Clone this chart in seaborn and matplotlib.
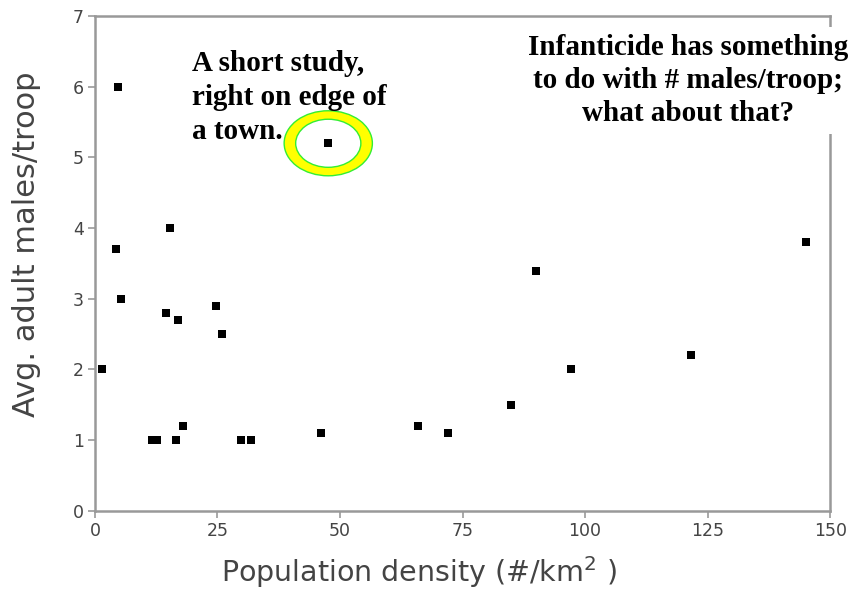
import matplotlib
matplotlib.use('Agg')
import matplotlib.pyplot as plt
from matplotlib.patches import Ellipse
import seaborn as sns
import pandas as pd

# population density (#/km^2) and avg adult males per troop
density = [1.4, 4.7, 4.3, 5.3, 15.3, 14.5, 17.0, 24.7, 25.9, 11.6, 12.6, 16.5,
           17.9, 29.8, 31.8, 46.1, 47.6, 66.0, 72.0, 84.9, 90.0, 97.1, 121.6, 145.0]
males = [2.0, 6.0, 3.7, 3.0, 4.0, 2.8, 2.7, 2.9, 2.5, 1.0, 1.0, 1.0,
         1.2, 1.0, 1.0, 1.1, 5.2, 1.2, 1.1, 1.5, 3.4, 2.0, 2.2, 3.8]
x_ticks = [0, 25, 50, 75, 100, 125, 150]
y_ticks = [0, 1, 2, 3, 4, 5, 6, 7]

df = pd.DataFrame({'density': density, 'males': males})

sns.set_style('white')
fig = plt.figure(figsize=(8.63, 5.94), dpi=100)
ax = fig.add_axes([0.110, 0.140, 0.852, 0.833])

# highlight ring around the short study near a town
ax.add_patch(Ellipse((47.6, 5.2), 18.0, 0.92, facecolor='#ffff00',
                     edgecolor='#33ee33', linewidth=1, zorder=2))
ax.add_patch(Ellipse((47.6, 5.2), 13.3, 0.68, facecolor='white',
                     edgecolor='#33ee33', linewidth=1, zorder=2))

sns.scatterplot(data=df, x='density', y='males', marker='s', s=38,
                color='black', linewidth=0, ax=ax, zorder=3)

ax.set_xlim(0, 150)
ax.set_ylim(0, 7)
ax.set_xticks(x_ticks)
ax.set_yticks(y_ticks)
ax.tick_params(axis='both', bottom=True, left=True, direction='out', length=5,
               width=1.2, color='#999999', labelsize=12.5, labelcolor='#444444', pad=3)
for s in ax.spines.values():
    s.set_color('#999999')
    s.set_linewidth(1.8)

ax.set_xlabel('Population density (#/km$^{2}$ )', fontsize=20.5, color='#444444')
ax.set_ylabel('Avg. adult males/troop', fontsize=22, color='#444444')
ax.xaxis.set_label_coords(0.441, -0.088)
ax.yaxis.set_label_coords(-0.074, 0.538)

ax.text(0.132, 0.932, 'A short study,\nright on edge of\na town.', transform=ax.transAxes,
        fontsize=21, fontweight='bold', family='Liberation Serif', va='top', ha='left',
        linespacing=1.35, color='black', zorder=4)
ax.text(0.807, 0.964, 'Infanticide has something\nto do with # males/troop;\nwhat about that?',
        transform=ax.transAxes, fontsize=21, fontweight='bold', family='Liberation Serif',
        va='top', ha='center', linespacing=1.3, color='black', zorder=4, clip_on=False,
        bbox=dict(facecolor='white', edgecolor='none', pad=5))

fig.savefig('out.png', dpi=100)
